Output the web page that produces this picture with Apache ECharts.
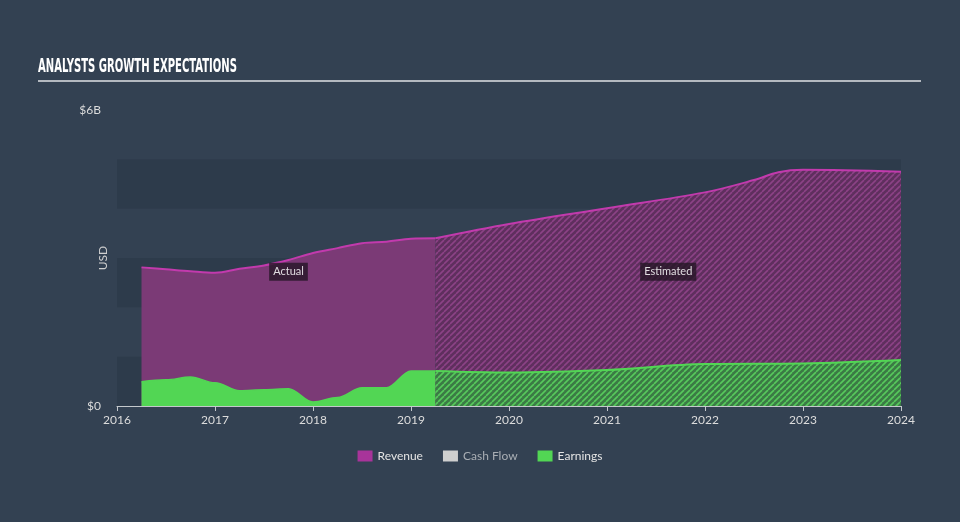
<!DOCTYPE html>
<html><head><meta charset="utf-8">
<script src="https://cdn.jsdelivr.net/npm/echarts@6/dist/echarts.min.js"></script>
<style>html,body{margin:0;padding:0;background:#334152;}#c{width:960px;height:522px;}</style>
</head><body><div id="c"></div>
<script>
const titleText = 'ANALYSTS GROWTH EXPECTATIONS';
const yAxisName = 'USD';
const legendNames = ['Revenue', 'Cash Flow', 'Earnings'];
const xTicks = [2016, 2017, 2018, 2019, 2020, 2021, 2022, 2023, 2024];
const yTickLabels = {0: '$0', 6: '$6B'};
// Revenue (billions USD)
const revenueActualX = [2016.25, 2016.5, 2016.75, 2017, 2017.25, 2017.5, 2017.75, 2018, 2018.25, 2018.5, 2018.75, 2019, 2019.25];
const revenueActualY = [2.81, 2.77, 2.73, 2.70, 2.78, 2.85, 2.96, 3.10, 3.20, 3.30, 3.33, 3.39, 3.40];
const revenueEstX = [2019.25, 2020, 2021, 2022, 2022.5, 2022.75, 2023, 2024];
const revenueEstY = [3.40, 3.69, 4.01, 4.33, 4.58, 4.74, 4.79, 4.75];
// Earnings (billions USD)
const earningsActualX = [2016.25, 2016.5, 2016.75, 2017, 2017.25, 2017.5, 2017.75, 2018, 2018.25, 2018.5, 2018.75, 2019, 2019.25];
const earningsActualY = [0.49, 0.53, 0.59, 0.47, 0.31, 0.33, 0.35, 0.08, 0.17, 0.37, 0.37, 0.71, 0.71];
const earningsEstX = [2019.25, 2020, 2021, 2022, 2023, 2024];
const earningsEstY = [0.71, 0.68, 0.73, 0.85, 0.86, 0.93];

const pair = (xs, ys) => xs.map((x, i) => [x, ys[i]]);

function hatch(base, stripe) {
  const s = 6;
  const c = document.createElement('canvas');
  c.width = s; c.height = s;
  const g = c.getContext('2d');
  g.fillStyle = base; g.fillRect(0, 0, s, s);
  g.strokeStyle = stripe; g.lineWidth = 1.6;
  for (let k = -1; k <= 1; k++) {
    g.beginPath();
    g.moveTo(k * s, s); g.lineTo(k * s + s, 0);
    g.stroke();
  }
  return c;
}

const REV = '#a8349a', REV_LINE = '#c23aad', REV_FILL = '#7b3a76';
const EARN = '#52d654';
const FONT = 'Lato, "Noto Sans", sans-serif';

const chart = echarts.init(document.getElementById('c'));

// title width fit
const mc = document.createElement('canvas').getContext('2d');
mc.font = 'bold 19px "DejaVu Sans Condensed", "DejaVu Sans"';
const tw = mc.measureText(titleText).width;
const sx = 199 / tw;

const actualMid = (revenueActualX[0] + revenueActualX[revenueActualX.length - 1]) / 2;
const estMid = (revenueEstX[0] + revenueEstX[revenueEstX.length - 1]) / 2;
const labelY = 2.72;
const tagLabel = {show: true, color: '#e0dce0', fontSize: 11, fontFamily: FONT,
  backgroundColor: 'rgba(35,22,36,0.78)', padding: [4, 4, 3, 4], position: 'inside'};

chart.setOption({
  backgroundColor: '#334152',
  animation: false,
  graphic: [
    {type: 'text', left: 38, top: 58, scaleX: sx, style: {text: titleText, fill: '#ffffff',
      font: 'bold 19px "DejaVu Sans Condensed", "DejaVu Sans"'}},
    {type: 'rect', shape: {x: 38, y: 80, width: 883, height: 2}, style: {fill: '#b4b9c0'}},
    {type: 'text', x: 103, y: 258, rotation: Math.PI / 2,
      style: {text: yAxisName, fill: '#d0d0d0', font: '12px ' + FONT, textAlign: 'center', textVerticalAlign: 'middle'}}
  ],
  grid: {left: 117, right: 59, top: 110, bottom: 116},
  legend: {
    bottom: 55, left: 'center', itemWidth: 15, itemHeight: 11, itemGap: 20, icon: 'rect',
    textStyle: {color: '#e4e4e4', fontSize: 12, fontFamily: FONT},
    data: [
      {name: legendNames[0]},
      {name: legendNames[1], textStyle: {color: '#a9aeb4'}},
      {name: legendNames[2]}
    ]
  },
  xAxis: {
    type: 'value', min: xTicks[0], max: xTicks[xTicks.length - 1], interval: 1,
    axisLine: {show: true, lineStyle: {color: '#c4c8cc', width: 1}},
    axisTick: {show: true, length: 5, lineStyle: {color: '#c4c8cc'}},
    splitLine: {show: false},
    axisLabel: {color: '#dcdcdc', fontSize: 12, margin: 8, fontFamily: FONT,
      formatter: v => xTicks.includes(v) ? String(v) : ''}
  },
  yAxis: {
    type: 'value', min: 0, max: 6, interval: 1,
    axisLine: {show: false}, axisTick: {show: false},
    splitLine: {show: false},
    splitArea: {show: true, areaStyle: {color: ['rgba(20,30,42,0.16)', 'rgba(0,0,0,0)']}},
    axisLabel: {color: '#dcdcdc', fontSize: 12, margin: 16, fontFamily: FONT,
      formatter: v => yTickLabels[v] || ''}
  },
  series: [
    {name: 'Revenue', type: 'line', data: pair(revenueActualX, revenueActualY), smooth: 0.35,
      showSymbol: false, symbol: 'none', color: REV,
      lineStyle: {color: REV_LINE, width: 2}, areaStyle: {color: REV_FILL, opacity: 1},
      markPoint: {symbol: 'rect', symbolSize: 1, itemStyle: {color: 'rgba(0,0,0,0)'}, label: tagLabel,
        data: [{coord: [actualMid, labelY], value: 'Actual', label: {formatter: 'Actual'}}]}},
    {name: 'Revenue', type: 'line', data: pair(revenueEstX, revenueEstY), smooth: 0.35,
      showSymbol: false, symbol: 'none', color: REV,
      lineStyle: {color: REV_LINE, width: 2},
      areaStyle: {color: {image: hatch('#5f2f5e', '#8c4286'), repeat: 'repeat'}, opacity: 1},
      markPoint: {symbol: 'rect', symbolSize: 1, itemStyle: {color: 'rgba(0,0,0,0)'}, label: tagLabel,
        data: [{coord: [estMid, labelY], value: 'Estimated', label: {formatter: 'Estimated'}}]}},
    {name: 'Cash Flow', type: 'line', data: [], color: '#cfcfcf', symbol: 'none'},
    {name: 'Earnings', type: 'line', data: pair(earningsActualX, earningsActualY), smooth: 0.35, smoothMonotone: 'x',
      showSymbol: false, symbol: 'none', color: EARN,
      lineStyle: {color: EARN, width: 1.5}, areaStyle: {color: EARN, opacity: 1}},
    {name: 'Earnings', type: 'line', data: pair(earningsEstX, earningsEstY), smooth: 0.35,
      showSymbol: false, symbol: 'none', color: EARN,
      lineStyle: {color: EARN, width: 2},
      areaStyle: {color: {image: hatch('#3b7a45', '#57c95c'), repeat: 'repeat'}, opacity: 1}}
  ]
});
</script></body></html>
